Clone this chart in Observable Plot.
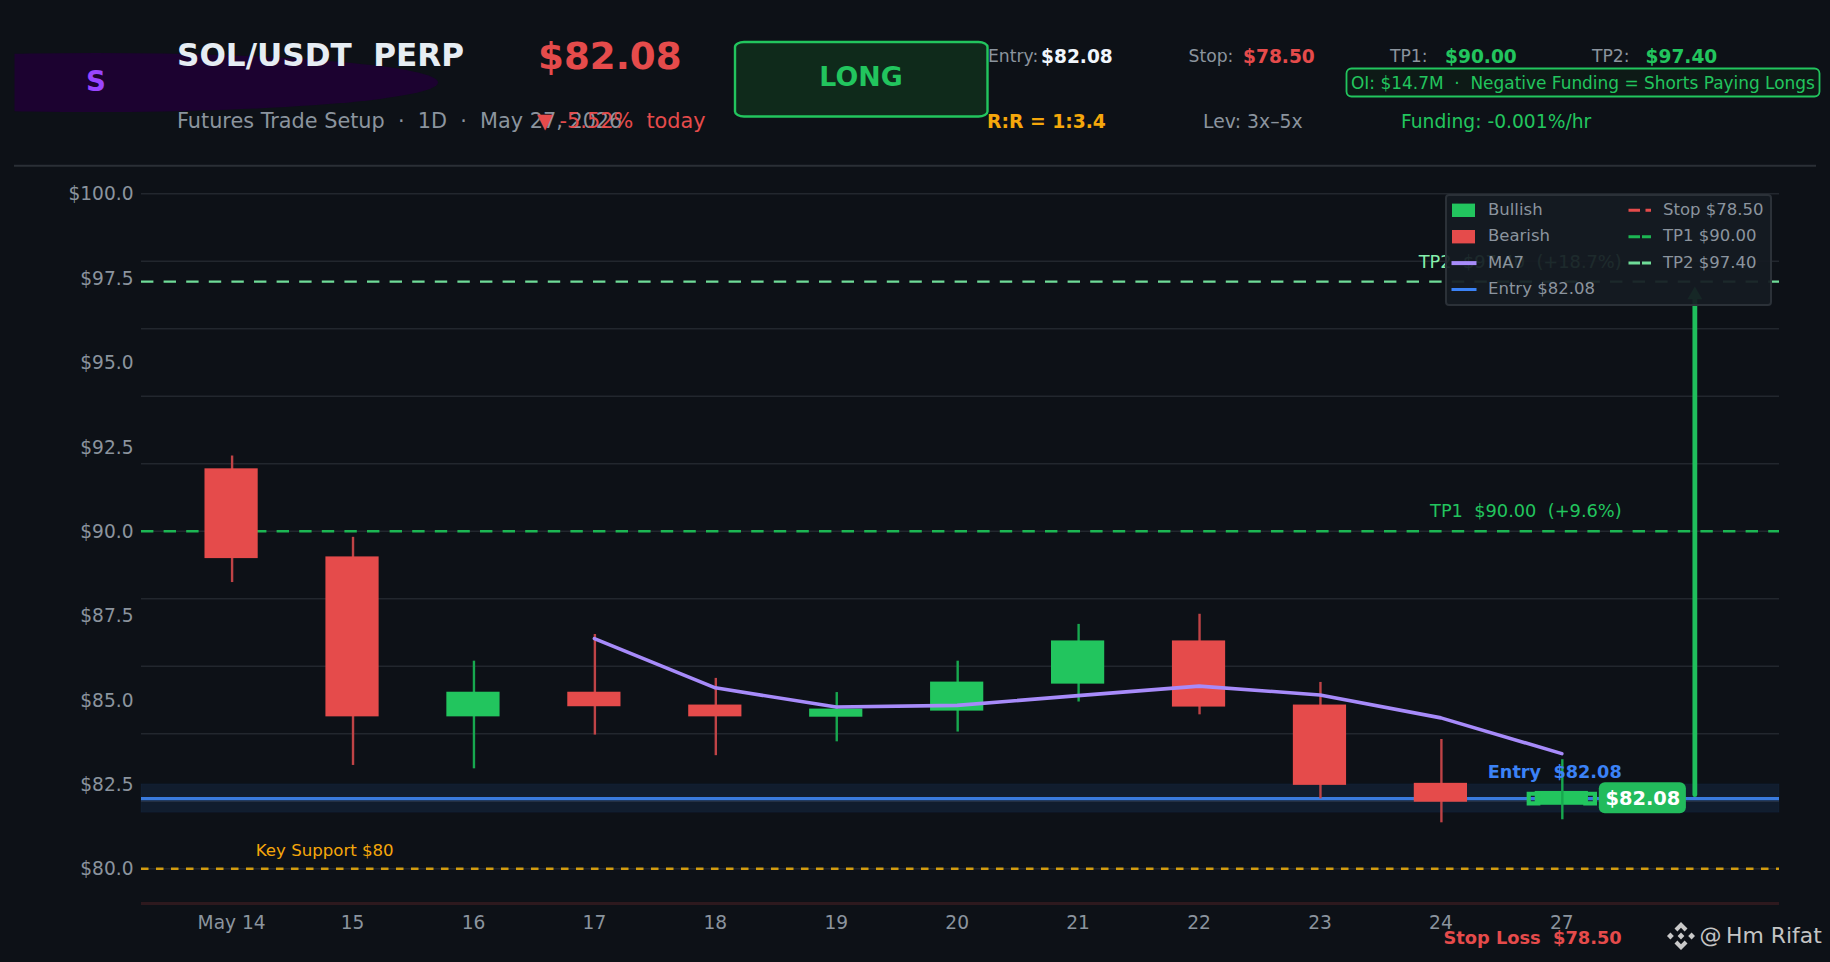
<!DOCTYPE html>
<html>
<head>
<meta charset="utf-8">
<script src="https://cdn.jsdelivr.net/npm/d3@7"></script>
<script src="https://cdn.jsdelivr.net/npm/@observablehq/plot@0.6"></script>
<style>
html,body{margin:0;padding:0;background:#0d1117;}
#page{position:relative;width:1830px;height:962px;overflow:hidden;background:#0d1117;font-family:"DejaVu Sans",sans-serif;}
#page svg{display:block;}
#chart{position:absolute;left:0;top:0;}
.t{position:absolute;white-space:pre;line-height:1;transform:translateY(-50%);}
#legend{position:absolute;left:1445px;top:193.5px;width:327px;height:112px;box-sizing:border-box;background:rgba(22,27,34,.93);border:2px solid #2b3138;border-radius:4px;}
</style>
</head>
<body>
<div id="page"><div id="chart"></div></div>
<script>
const dayLabels = ["May 14","15","16","17","18","19","20","21","22","23","24","27"];
const opens  = [91.85,89.24,84.50,85.23,84.85,84.49,84.67,85.47,86.75,84.85,82.53,81.88];
const closes = [89.19,84.50,85.23,84.80,84.50,84.73,85.53,86.75,84.79,82.47,81.97,82.29];
const highs  = [92.23,89.82,86.15,86.94,85.64,85.22,86.15,87.24,87.54,85.52,83.83,83.23];
const lows   = [88.48,83.06,82.96,83.96,83.35,83.76,84.05,84.94,84.56,82.07,81.36,81.45];
const ma7    = [null,null,null,86.82,85.36,84.79,84.84,85.13,85.41,85.15,84.47,83.41];
const yTicks = [80,82.5,85,87.5,90,92.5,95,97.5,100];
const gridLevels = [80,82,84,86,88,90,92,94,96,98,100];
const ENTRY = 82.08, STOP = 78.5, TP1 = 90, TP2 = 97.4, SUPPORT = 80;

const RED="#e54b4b", GREEN="#22c55e", WICK_RED="#bf4346", WICK_GREEN="#17a84f", BLUE="#3a7bde", PURPLE="#a78bfa", AMBER="#f5a70b", GREY="#8b949e", BG="#0d1117";

const candles = dayLabels.map((label,i)=>({i,label,open:opens[i],close:closes[i],high:highs[i],low:lows[i],up:closes[i]>=opens[i]}));
const maPoints = ma7.map((v,i)=>({i,v})).filter(d=>d.v!=null);
const lastIndex = candles.length-1;
const BODY = 0.22;
const ARROW_X = 12.1;

const chart = Plot.plot({
  width:1830, height:962,
  marginLeft:141, marginRight:51, marginTop:193.3, marginBottom:57,
  style:{background:"transparent",color:GREY,fontFamily:"'DejaVu Sans',sans-serif",overflow:"visible"},
  x:{type:"linear",domain:[-0.745,12.8],label:null},
  y:{domain:[78.91,100],label:null},
  marks:[
    Plot.ruleY(gridLevels,{stroke:"#22272e",strokeWidth:1.6}),
    Plot.rect([{lo:ENTRY-0.42,hi:ENTRY+0.42}],{x1:-0.745,x2:12.8,y1:"lo",y2:"hi",fill:"#3b82f6",fillOpacity:0.105,stroke:"#3b82f6",strokeOpacity:0.05}),
    Plot.rect([{lo:78.91,hi:79.0}],{x1:-0.745,x2:12.8,y1:"lo",y2:"hi",fill:"#e54b4b",fillOpacity:0.15}),
    Plot.ruleY([SUPPORT],{stroke:"#d29c10",strokeWidth:2.6,strokeDasharray:"7.5 7.5"}),
    Plot.ruleY([TP1],{stroke:"#1cb653",strokeWidth:2.3,strokeDasharray:"12.4 10.2"}),
    Plot.ruleY([TP2],{stroke:"#6fdc98",strokeWidth:2.3,strokeDasharray:"12.4 10.2"}),
    Plot.ruleY([ENTRY],{stroke:BLUE,strokeWidth:3.2}),
    Plot.ruleX(candles.filter(d=>d.i<lastIndex),{x:"i",y1:"low",y2:"high",dx:.5,stroke:d=>d.up?WICK_GREEN:WICK_RED,strokeWidth:2.4}),
    Plot.rect(candles,{x1:d=>d.i-BODY,x2:d=>d.i+BODY,y1:"open",y2:"close",fill:d=>d.up?GREEN:RED}),
    Plot.ruleX(candles.filter(d=>d.i===lastIndex),{x:"i",y1:"low",y2:"high",dx:.5,stroke:WICK_GREEN,strokeWidth:2.4}),
    Plot.dot([-0.234,0.234],{x:d=>lastIndex+d,y:()=>ENTRY,symbol:"square",r:5.4,fill:"none",stroke:GREEN,strokeWidth:4.2}),
    Plot.line(maPoints,{x:"i",y:"v",stroke:PURPLE,strokeWidth:3.6}),
    Plot.ruleX([ARROW_X],{y1:ENTRY+0.1,y2:TP2-0.4,stroke:"#1fbf5c",strokeWidth:4.8,strokeLinecap:"round"}),
    Plot.dot([ARROW_X],{x:d=>d,y:()=>TP2-0.4,symbol:"triangle",r:5.5,fill:"#1fbf5c"}),
    Plot.rect([{a:11.31,b:12.03,lo:81.63,hi:82.55}],{x1:"a",x2:"b",y1:"lo",y2:"hi",fill:"#22bb5c",rx:6}),
    Plot.text(["$82.08"],{x:11.67,y:()=>ENTRY,text:d=>d,fill:"#fff",fontWeight:"bold",fontSize:19.4}),
    Plot.text(["Entry  $82.08"],{x:11.495,y:()=>ENTRY,dy:-26.5,text:d=>d,textAnchor:"end",fill:"#3b82f6",fontWeight:"bold",fontSize:17.7}),
    Plot.text(["TP1  $90.00  (+9.6%)"],{x:11.495,y:()=>TP1,dy:-19.5,text:d=>d,textAnchor:"end",fill:GREEN,fontSize:17.8}),
    Plot.text(["TP2  $97.40  (+18.7%)"],{x:11.495,y:()=>TP2,dy:-19.5,text:d=>d,textAnchor:"end",fill:"#86efac",fontSize:17.8}),
    Plot.text(["Key Support $80"],{x:0.2,y:()=>SUPPORT,dy:-18,text:d=>d,textAnchor:"start",fill:AMBER,fontSize:16.6}),
    Plot.text(["Stop Loss  $78.50"],{x:11.495,y:()=>STOP,dy:18.5,text:d=>d,textAnchor:"end",fill:RED,fontWeight:"bold",fontSize:17.8,clip:false}),
    Plot.axisY({ticks:yTicks,tickFormat:d=>"$"+d.toFixed(1),tickSize:0,tickPadding:8,fontSize:18.6,dy:0.7,label:null,fill:GREY}),
    Plot.axisX({ticks:dayLabels.map((_,i)=>i),tickFormat:i=>dayLabels[i],tickSize:0,tickPadding:10,fontSize:18.6,label:null,fill:GREY}),
  ]
});
document.getElementById("chart").appendChild(chart);

const page = document.getElementById("page");
function put(text,x,y,size,color,bold,anchor){
  const s=document.createElement("span");s.className="t";s.textContent=text;
  s.style.left=x+"px";s.style.top=y+"px";s.style.fontSize=size+"px";s.style.color=color;
  if(bold)s.style.fontWeight="bold";
  if(anchor==="mid")s.style.transform="translate(-50%,-50%)";
  page.appendChild(s);return s;
}
function addSvg(html){const d=document.createElement("div");d.innerHTML=html;const e=d.firstChild;page.appendChild(e);return e;}

// Header decoration
addSvg(`<svg style="position:absolute;left:0;top:0" width="1830" height="170"><defs><clipPath id="cl"><rect x="14.5" y="0" width="500" height="170"/></clipPath></defs><ellipse cx="96" cy="82.5" rx="342" ry="29.5" fill="#1c0230" clip-path="url(#cl)"/><line x1="14" x2="1816" y1="165.7" y2="165.7" stroke="#2a2f36" stroke-width="2"/><rect x="735" y="42" width="252.5" height="74.5" rx="9" ry="5" fill="#0f2a1b" stroke="#22c55e" stroke-width="2.4"/><rect x="1346.5" y="68.5" width="473" height="28" rx="5" fill="#0d1a16" stroke="#22c55e" stroke-width="1.8"/></svg>`);
put("S",96,82,27.6,"#9945ff",true,"mid");
put("SOL/USDT  PERP",177,56,31.1,"#e6edf3",true);
put("$82.08",538,56.5,37.2,RED,true);
put("Futures Trade Setup  ·  1D  ·  May 27, 2026",177,120.5,20.8,GREY);
put("▼ -5.52%  today",537,120.5,20.8,RED);
put("LONG",861,77,26.8,GREEN,true,"mid");
put("Entry:",988,57,17.2,GREY);put("$82.08",1041,57,18.6,"#f0f6fc",true);
put("Stop:",1188.5,57,17.2,GREY);put("$78.50",1243,57,18.6,RED,true);
put("TP1:",1390,57,17.2,GREY);put("$90.00",1445,57,18.6,GREEN,true);
put("TP2:",1592,57,17.2,GREY);put("$97.40",1645.5,57,18.6,GREEN,true);
put("OI: $14.7M  ·  Negative Funding = Shorts Paying Longs",1351,82.5,16.94,GREEN);
put("R:R = 1:3.4",987,121.5,18.75,AMBER,true);
put("Lev: 3x–5x",1203,121.5,18.8,GREY);
put("Funding: -0.001%/hr",1401,121.5,18.7,GREEN);

// Watermark
addSvg(`<svg style="position:absolute;left:1667px;top:922px" width="28" height="28" viewBox="-14 -14 28 28" fill="#c9c9c9"><path d="M0-14 6.5-7.5 3.6-4.6 0-8.2-3.6-4.6-6.5-7.5Z"/><path d="M0 14 6.5 7.5 3.6 4.6 0 8.2-3.6 4.6-6.5 7.5Z"/><path d="M-14 0-10.6-3.4-7.2 0-10.6 3.4Z"/><path d="M14 0 10.6-3.4 7.2 0 10.6 3.4Z"/><path d="M0-3.4 3.4 0 0 3.4-3.4 0Z"/></svg>`);
put("@",1699.5,936,22,"#c4c4c4");
put("Hm Rifat",1726,936,21.9,"#c4c4c4");

// Legend
const legendLabels = ["Bullish","Bearish","MA7","Entry $82.08","Stop $78.50","TP1 $90.00","TP2 $97.40"];
const legendColors = [GREEN,RED,PURPLE,"#3b82f6",RED,"#1cb653","#6fdc98"];
const legendKinds  = ["box","box","line","line","dash1","dash2","dash2"];
const legend=document.createElement("div");legend.id="legend";page.appendChild(legend);
let sw=`<svg style="position:absolute;left:-2px;top:-2px" width="327" height="112">`;
legendLabels.forEach((lab,i)=>{
  const col = i<4?0:1, row = i<4?i:i-4;
  const cy = 209.8+row*26.4-193.5;
  const sx = col? 1628.5-1445 : 1451.5-1445;
  const c=legendColors[i];
  if(legendKinds[i]==="box") sw+=`<rect x="${sx+.5}" y="${cy-6.7}" width="23" height="13.4" fill="${c}"/>`;
  if(legendKinds[i]==="line") sw+=`<line x1="${sx}" x2="${sx+25}" y1="${cy}" y2="${cy}" stroke="${c}" stroke-width="${i===2?4:3}"/>`;
  if(legendKinds[i]==="dash1") sw+=`<line x1="${sx}" x2="${sx+22.5}" y1="${cy}" y2="${cy}" stroke="${c}" stroke-width="3" stroke-dasharray="11.5 5.5"/>`;
  if(legendKinds[i]==="dash2") sw+=`<line x1="${sx}" x2="${sx+22.5}" y1="${cy}" y2="${cy}" stroke="${c}" stroke-width="3" stroke-dasharray="11.5 2"/>`;
});
sw+=`</svg>`;
legend.innerHTML=sw;
legendLabels.forEach((lab,i)=>{
  const col = i<4?0:1, row = i<4?i:i-4;
  const s=document.createElement("span");s.className="t";s.textContent=lab;
  s.style.left=(col?1663:1488)-1447+"px";s.style.top=(209.8+row*26.4-195.5)+"px";s.style.fontSize="16.5px";s.style.color=GREY;
  legend.appendChild(s);
});
</script>
</body>
</html>
